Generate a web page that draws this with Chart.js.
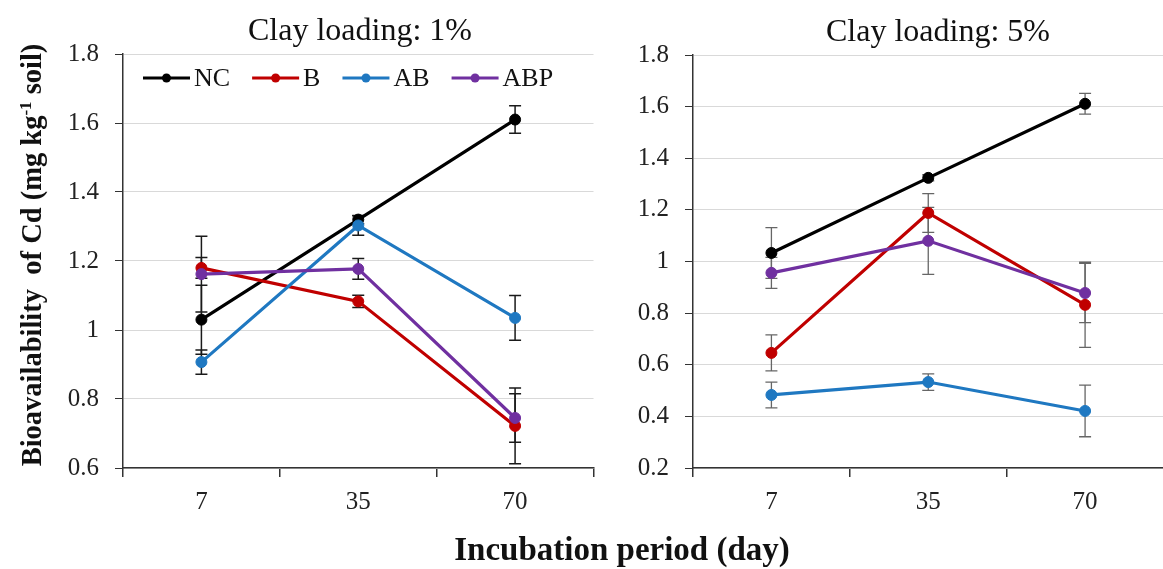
<!DOCTYPE html>
<html>
<head>
<meta charset="utf-8">
<script src="https://cdn.jsdelivr.net/npm/chart.js@4.4.1/dist/chart.umd.min.js"></script>
<style>
  html, body { margin:0; padding:0; background:#fff; width:1163px; height:569px; overflow:hidden; position:relative; }
</style>
</head>
<body>
<canvas id="c1" width="600" height="520" style="position:absolute;left:0px;top:0px"></canvas>
<canvas id="c2" width="730" height="569" style="position:absolute;left:440px;top:0px"></canvas>
<script>
// ---- data ----
const categories = ['7', '35', '70'];
const seriesNames = ['NC', 'B', 'AB', 'ABP'];
const seriesColors = ['#000000', '#c00000', '#1f78c1', '#7030a0'];

// Clay loading 1%
const nc1 = [1.03, 1.32, 1.61];
const nc1Err = [0.10, 0.012, 0.04];
const b1 = [1.18, 1.083, 0.722];
const b1Err = [0.03, 0.018, 0.11];
const ab1 = [0.907, 1.303, 1.035];
const ab1Err = [0.035, 0.028, 0.065];
const abp1 = [1.162, 1.177, 0.745];
const abp1Err = [0.11, 0.03, 0.07];
const yTicks1 = ['0.6', '0.8', '1', '1.2', '1.4', '1.6', '1.8'];

// Clay loading 5%
const nc2 = [1.033, 1.324, 1.611];
const nc2Err = [0.098, 0.012, 0.04];
const b2 = [0.646, 1.188, 0.832];
const b2Err = [0.07, 0.075, 0.165];
const ab2 = [0.483, 0.533, 0.421];
const ab2Err = [0.05, 0.032, 0.10];
const abp2 = [0.956, 1.08, 0.878];
const abp2Err = [0.06, 0.13, 0.115];
const yTicks2 = ['0.2', '0.4', '0.6', '0.8', '1', '1.2', '1.4', '1.6', '1.8'];

const title1 = 'Clay loading: 1%';
const title2 = 'Clay loading: 5%';
const yTitleParts = ['Bioavailability  of Cd (mg kg', '-1', ' soil)'];
const xTitle = 'Incubation period (day)';

const SERIF = '"Liberation Serif", serif';

function makeDatasets(vals, errs) {
  return vals.map((v, i) => ({
    label: seriesNames[i],
    data: v,
    errors: errs[i],
    borderColor: seriesColors[i],
    backgroundColor: seriesColors[i],
    pointBackgroundColor: seriesColors[i],
    pointBorderColor: seriesColors[i],
    pointRadius: 5.5,
    pointBorderWidth: 1,
    borderWidth: 3.2,
    tension: 0,
    order: vals.length - i
  }));
}

const errorBarPlugin = {
  id: 'errorBars',
  beforeDatasetsDraw(chart, args, opts) {
    const ctx = chart.ctx;
    const y = chart.scales.y;
    ctx.save();
    ctx.strokeStyle = opts.color;
    ctx.lineWidth = opts.width;
    chart.data.datasets.forEach((ds, di) => {
      const meta = chart.getDatasetMeta(di);
      meta.data.forEach((pt, i) => {
        const v = ds.data[i], e = ds.errors[i];
        const yt = y.getPixelForValue(v + e), yb = y.getPixelForValue(v - e);
        const x = pt.x;
        ctx.beginPath();
        ctx.moveTo(x, yt); ctx.lineTo(x, yb);
        ctx.moveTo(x - opts.cap, yt); ctx.lineTo(x + opts.cap, yt);
        ctx.moveTo(x - opts.cap, yb); ctx.lineTo(x + opts.cap, yb);
        ctx.stroke();
      });
    });
    ctx.restore();
  }
};

const customLegend = {
  id: 'customLegend',
  afterDraw(chart, args, opts) {
    if (!opts.show) return;
    const ctx = chart.ctx;
    ctx.save();
    ctx.font = '26px ' + SERIF;
    ctx.textBaseline = 'middle';
    let x = opts.x;
    const y = opts.y;
    chart.data.datasets.forEach(ds => {
      ctx.strokeStyle = ds.borderColor;
      ctx.lineWidth = 3;
      ctx.beginPath(); ctx.moveTo(x, y); ctx.lineTo(x + 47, y); ctx.stroke();
      ctx.fillStyle = ds.borderColor;
      ctx.beginPath(); ctx.arc(x + 23.5, y, 4.5, 0, Math.PI * 2); ctx.fill();
      ctx.fillStyle = '#111';
      ctx.fillText(ds.label, x + 51, y + 1);
      x += 51 + ctx.measureText(ds.label).width + 22;
    });
    ctx.restore();
  }
};

// titles drawn in canvas: plain text items and an optional rotated y-title with superscript
const textPlugin = {
  id: 'texts',
  afterDraw(chart, args, opts) {
    const ctx = chart.ctx;
    (opts.items || []).forEach(it => {
      ctx.save();
      ctx.font = it.font;
      ctx.fillStyle = '#111';
      ctx.textAlign = 'center';
      ctx.textBaseline = 'alphabetic';
      ctx.fillText(it.text, it.x, it.y);
      ctx.restore();
    });
    if (opts.yTitle) {
      const t = opts.yTitle;
      ctx.save();
      ctx.translate(t.x, t.y);
      ctx.rotate(-Math.PI / 2);
      ctx.fillStyle = '#111';
      ctx.textBaseline = 'alphabetic';
      ctx.textAlign = 'left';
      ctx.font = t.font;
      const w1 = ctx.measureText(t.parts[0]).width;
      const w3 = ctx.measureText(t.parts[2]).width;
      ctx.font = t.supFont;
      const w2 = ctx.measureText(t.parts[1]).width;
      let x = -(w1 + w2 + w3) / 2;
      ctx.font = t.font;
      ctx.fillText(t.parts[0], x, t.base);
      x += w1;
      ctx.font = t.supFont;
      ctx.fillText(t.parts[1], x, t.base - 10);
      x += w2;
      ctx.font = t.font;
      ctx.fillText(t.parts[2], x, t.base);
      ctx.restore();
    }
  }
};

function makeChart(id, yWidth, xHeight, padTop, padRight, yMin, yMax, yLabels, datasets, errColor, errWidth, legendShow, texts) {
  const cv = document.getElementById(id);
  return new Chart(cv, {
    type: 'line',
    data: { labels: categories, datasets },
    options: {
      responsive: false,
      animation: false,
      layout: { padding: { top: padTop, right: padRight, left: 0, bottom: 0 } },
      plugins: {
        legend: { display: false },
        title: { display: false },
        tooltip: { enabled: false },
        errorBars: { color: errColor, width: errWidth, cap: 6 },
        customLegend: { show: legendShow, x: 143, y: 78 },
        texts: texts
      },
      scales: {
        x: {
          type: 'category',
          offset: true,
          grid: { offset: true, drawOnChartArea: false, drawTicks: true, tickLength: 9, color: '#333', tickColor: '#333', lineWidth: 1.5 },
          border: { color: '#333', width: 1.5 },
          ticks: { font: { family: SERIF, size: 25 }, color: '#222', padding: 10 },
          afterFit(s) { s.height = xHeight; }
        },
        y: {
          min: yMin, max: yMax,
          grid: { color: '#d9d9d9', lineWidth: 1, drawTicks: true, tickLength: 8, tickColor: '#333' },
          border: { color: '#333', width: 1.5 },
          ticks: {
            stepSize: 0.2,
            font: { family: SERIF, size: 25 },
            color: '#222',
            padding: 16,
            callback: (v, i) => yLabels[i] !== undefined ? yLabels[i] : v
          },
          afterFit(s) { s.width = yWidth; }
        }
      }
    },
    plugins: [errorBarPlugin, customLegend, textPlugin]
  });
}

function drawAll() {
  makeChart('c1', 123, 52, 54, 3, 0.6, 1.8, yTicks1,
    makeDatasets([nc1, b1, ab1, abp1], [nc1Err, b1Err, ab1Err, abp1Err]), '#1a1a1a', 1.5, true,
    {
      items: [{ text: title1, x: 360, y: 40, font: '32px ' + SERIF }],
      yTitle: { parts: yTitleParts, x: 31, y: 255, base: 10, font: 'bold 28.5px ' + SERIF, supFont: 'bold 17px ' + SERIF }
    });
  makeChart('c2', 253, 101, 55, 0, 0.2, 1.8, yTicks2,
    makeDatasets([nc2, b2, ab2, abp2], [nc2Err, b2Err, ab2Err, abp2Err]), '#666666', 1.3, false,
    {
      items: [
        { text: title2, x: 498, y: 41, font: '32px ' + SERIF },
        { text: xTitle, x: 182, y: 560, font: 'bold 33px ' + SERIF }
      ]
    });
}

setTimeout(drawAll, 300);
</script>
</body>
</html>
